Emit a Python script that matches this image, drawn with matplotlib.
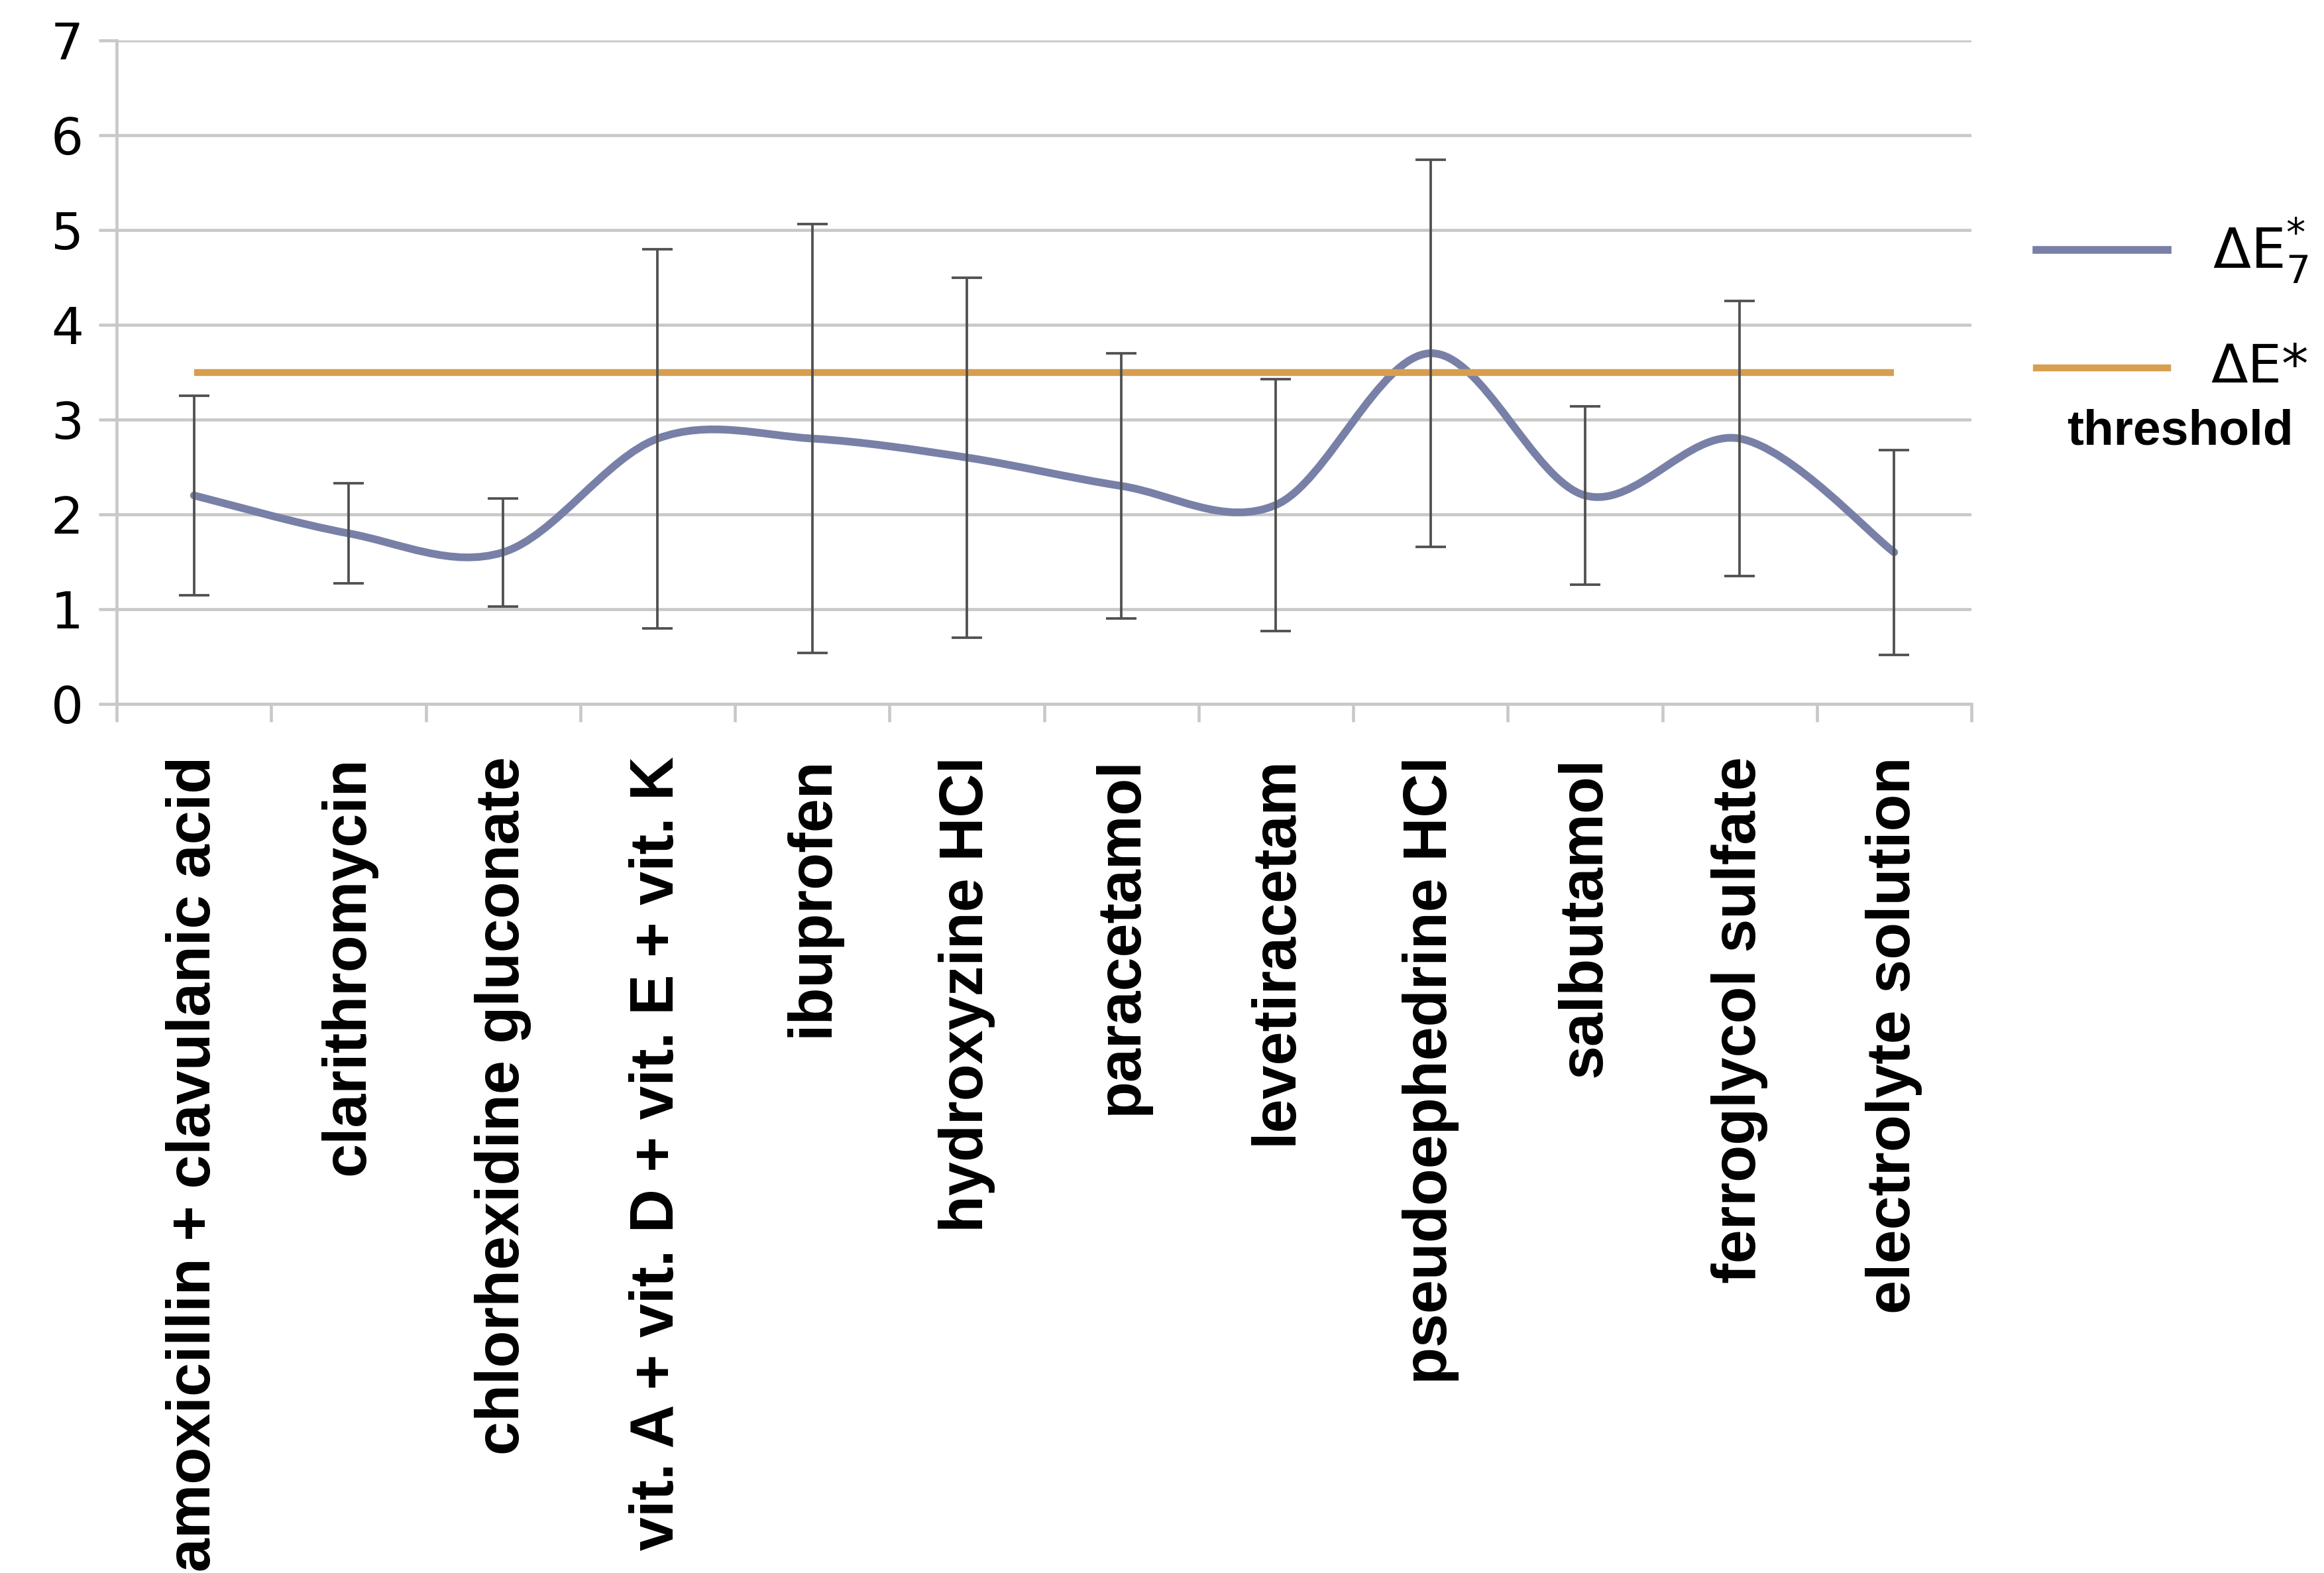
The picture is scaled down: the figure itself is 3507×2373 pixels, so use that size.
import matplotlib
matplotlib.use("Agg")
import matplotlib.pyplot as plt
from matplotlib.path import Path
from matplotlib.patches import PathPatch
from matplotlib.lines import Line2D
import numpy as np

categories = [
    "amoxicillin + clavulanic acid",
    "clarithromycin",
    "chlorhexidine gluconate",
    "vit. A + vit. D + vit. E + vit. K",
    "ibuprofen",
    "hydroxyzine HCl",
    "paracetamol",
    "levetiracetam",
    "pseudoephedrine HCl",
    "salbutamol",
    "ferroglycol sulfate",
    "electrolyte solution",
]
delta_e7 = [2.2, 1.8, 1.6, 2.8, 2.8, 2.6, 2.3, 2.1, 3.7, 2.2, 2.8, 1.6]
delta_e7_err = [1.05, 0.53, 0.57, 2.0, 2.26, 1.9, 1.4, 1.33, 2.04, 0.94, 1.45, 1.08]
threshold = [3.5] * 12
y_ticks = [0, 1, 2, 3, 4, 5, 6, 7]

BLUE = "#7880a7"
ORANGE = "#d79e50"
GRID = "#c8c8c8"
ERR = "#505050"

plt.rcParams["mathtext.fontset"] = "dejavusans"

W, H = 3507, 2373
DPI = 300
fig = plt.figure(figsize=(W / DPI, H / DPI), dpi=DPI)
ax = fig.add_axes([176 / W, 1 - 1062 / H, (2975 - 176) / W, (1062 - 61) / H])

x = np.arange(1, len(categories) + 1)
y = np.array(delta_e7, dtype=float)

# smoothed line (Catmull-Rom style Bezier, like a spreadsheet "smoothed line")
pts = np.column_stack([x, y])
ext = np.vstack([pts[0], pts, pts[-1]])
verts = [tuple(pts[0])]
codes = [Path.MOVETO]
for i in range(len(pts) - 1):
    p0, p1, p2, p3 = ext[i], ext[i + 1], ext[i + 2], ext[i + 3]
    c1 = p1 + (p2 - p0) / 6.0
    c2 = p2 - (p3 - p1) / 6.0
    verts += [tuple(c1), tuple(c2), tuple(p2)]
    codes += [Path.CURVE4, Path.CURVE4, Path.CURVE4]
curve = PathPatch(Path(verts, codes), facecolor="none", edgecolor=BLUE,
                  lw=2.8, capstyle="round", zorder=3)
ax.add_patch(curve)

ax.plot(x, threshold, color=ORANGE, lw=2.5, solid_capstyle="butt", zorder=4)

ax.errorbar(x, y, yerr=delta_e7_err, fmt="none", ecolor=ERR, elinewidth=0.9,
            capsize=5.5, capthick=0.9, zorder=5)

ax.set_xlim(0.5, len(categories) + 0.5)
ax.set_ylim(0, 7)
ax.set_yticks(y_ticks)
ax.set_yticklabels([str(t) for t in y_ticks], fontsize=18.5, family="DejaVu Sans")
ax.yaxis.grid(True, color=GRID, lw=1.1)
ax.set_axisbelow(True)

ax.set_xticks(x)
ax.set_xticklabels(categories, rotation=90, fontsize=22, fontweight="bold",
                   family="Liberation Sans", ha="center", va="top")
ax.set_xticks(np.arange(0.5, len(categories) + 1, 1.0), minor=True)
ax.tick_params(axis="x", which="major", length=0, pad=19)
ax.tick_params(axis="x", which="minor", length=6.5, width=1.1, color=GRID, direction="out")
ax.tick_params(axis="y", which="major", length=6.5, width=1.1, color=GRID, pad=5.5,
               direction="out")

for s in ["top", "right"]:
    ax.spines[s].set_visible(False)
for s in ["left", "bottom"]:
    ax.spines[s].set_color(GRID)
    ax.spines[s].set_linewidth(1.1)

# legend (drawn manually to match layout)
fig.add_artist(Line2D([3073 / W, 3271 / W], [1 - 377 / H, 1 - 377 / H],
                      transform=fig.transFigure, color=BLUE, lw=2.8))
fig.add_artist(Line2D([3073 / W, 3271 / W], [1 - 555 / H, 1 - 555 / H],
                      transform=fig.transFigure, color=ORANGE, lw=2.5))
fig.text(3484 / W, 1 - 404 / H, r"$\Delta\mathrm{E}^{*}_{7}$", ha="right",
         va="baseline", fontsize=20)
fig.text(3484 / W, 1 - 577 / H, "ΔE*", ha="right", va="baseline",
         fontsize=19.5, family="DejaVu Sans")
fig.text(3290 / W, 1 - 671 / H, "threshold", ha="center", va="baseline",
         fontsize=18, fontweight="bold", family="Liberation Sans")

fig.savefig("out.png", dpi=DPI)
